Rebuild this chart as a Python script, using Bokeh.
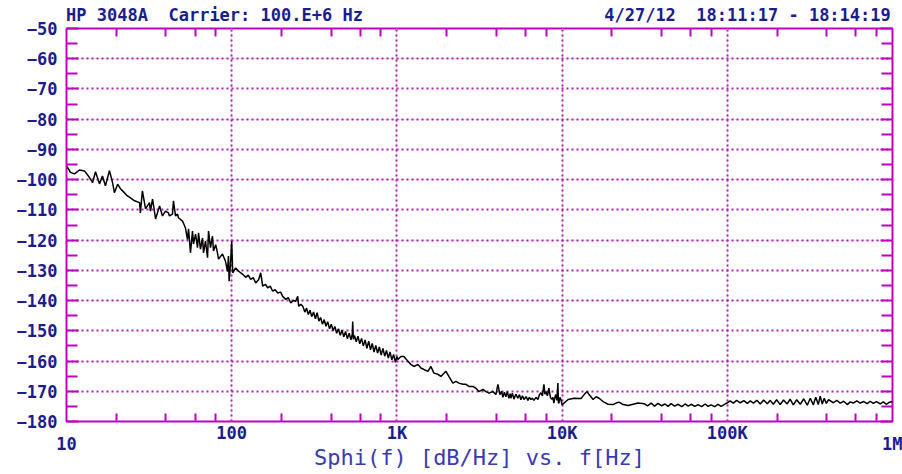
from bokeh.plotting import figure
from bokeh.models import Range1d, FixedTicker, LinearAxis, LogAxis, Grid
from bokeh.embed import file_html
from bokeh.resources import INLINE

# ---------------- data ----------------
title_left = "HP 3048A\u00a0 Carrier: 100.E+6 Hz"
title_right = "4/27/12\u00a0 18:11:17 - 18:14:19"
x_title = "Sphi(f) [dB/Hz] vs. f[Hz]"

x_tick_values = [10, 100, 1000, 10000, 100000, 1000000]
x_tick_labels = ["10", "100", "1K", "10K", "100K", "1M"]
x_minor = [m * d for d in (10, 100, 1000, 10000, 100000) for m in (2, 4, 6, 8)]
y_tick_values = list(range(-180, -49, 10))
y_minor = list(range(-175, -50, 10))

f_10_100 = [10.1, 10.57, 11.18, 11.98, 12.85, 13.78, 14.37, 14.98, 15.84, 16.5, 17.2, 18.2, 19.0, 19.5,
            20.4, 21.2, 22.4, 23.4, 24.4, 25.8, 27.7, 28.0, 28.8, 30.1, 31.8, 32.2, 33.2, 34.6, 36.6,
            38.1, 39.7, 41.4, 42.0, 43.8, 44.4, 45.7, 47.0, 47.6, 50.4, 52.5, 54.0, 54.8, 56.3, 57.9,
            58.7, 60.4, 62.1, 63.0, 64.7, 66.6, 67.5, 69.4, 71.4, 72.4, 74.4, 76.5, 77.6, 80.0, 82.0,
            83.2, 87.9, 91.7, 94.3, 95.6, 96.5, 98.3, 100.0]
db_10_100 = [-95.7, -97.6, -98.1, -96.8, -97.1, -99.3, -101.0, -97.4, -101.4, -98.8, -102.0, -97.0, -101.0, -104.3,
             -101.5, -103.0, -104.3, -105.4, -106.0, -107.0, -107.6, -111.0, -103.7, -109.7, -107.6, -110.4, -106.4, -113.0, -108.7,
             -112.0, -110.4, -111.0, -112.0, -111.4, -107.0, -112.0, -111.4, -112.6, -113.7, -116.0, -119.8, -116.3, -124.2, -117.0,
             -121.3, -118.0, -122.5, -117.6, -123.0, -119.3, -124.2, -120.3, -125.8, -117.0, -122.5, -118.7, -123.6, -121.5, -124.2,
             -126.3, -124.6, -127.0, -130.3, -125.3, -133.6, -128.0, -120.3]

f_100_1k = [101.4, 105.7, 110.2, 116.6, 121.5, 126, 130.3, 135, 139.8, 145.7, 149.8, 154.1, 160, 165.2, 171,
            177.1, 183, 189.9, 198, 203.5, 212.3, 220, 227.6, 236, 244, 250.9, 254.4, 262, 270, 277, 284,
            291, 298, 305, 313, 321, 329, 337, 345, 354, 363, 372, 381, 391, 401, 411, 421, 432, 443, 454,
            465, 477, 489, 501, 514, 527, 537, 540, 545, 553, 567, 581, 596, 611, 626, 642, 658, 675, 692,
            709, 727, 745, 764, 783, 803, 823, 844, 865, 887, 909, 932, 955, 979, 1000]
db_100_1k = [-130.8, -129.2, -130.3, -131.3, -132.3, -131.6, -133.0, -132.4, -134.2, -133.0, -130.8, -135.2, -134.6, -135.8, -135.2,
             -136.9, -136.4, -137.5, -137.2, -138.6, -139.6, -139.0, -140.8, -140.0, -140.2, -138.6, -141.9, -141.2, -142.0, -143.8, -142.5,
             -144.6, -143.2, -145.3, -143.8, -146.0, -144.0, -146.8, -145.6, -147.8, -146.3, -148.5, -147.0, -149.3, -147.8, -150.0, -148.6, -150.8, -149.3, -151.5,
             -149.8, -152.0, -150.2, -152.6, -150.8, -153.0, -151.0, -146.9, -152.8, -151.5, -153.6, -151.8, -154.3, -152.5, -155.0, -153.0, -155.8, -153.4, -156.3,
             -154.2, -157.0, -154.8, -157.4, -155.3, -158.0, -155.8, -158.4, -156.5, -159.0, -157.0, -159.6, -157.8, -160.4, -158.5]

f_1k_10k = [1014, 1057, 1102, 1166, 1215, 1268, 1340, 1398, 1457, 1541, 1606, 1675, 1771, 1846, 1980, 2064,
            2183, 2276, 2373, 2509, 2616, 2729, 2884, 3007, 3136, 3316, 3458, 3606, 3812, 3973, 4088, 4203,
            4300, 4381, 4470, 4568, 4660, 4764, 4850, 4898, 5000, 5108, 5250, 5402, 5520, 5632, 5750, 5875,
            6050, 6209, 6330, 6471, 6600, 6750, 6950, 7137, 7300, 7441, 7600, 7762, 7870, 7980, 8150, 8318,
            8500, 8670, 8800, 8913, 9050, 9165, 9300, 9432, 9500, 9563, 9700, 9833]
db_1k_10k = [-159.5, -158.5, -158.5, -160.1, -161.1, -161.8, -161.1, -162.3, -162.8, -163.4, -161.8, -164.0, -164.4, -165.1, -163.4, -165.1,
             -167.3, -166.7, -167.3, -167.7, -167.7, -168.4, -168.4, -169.0, -170.1, -169.4, -170.1, -170.6, -170.1, -171.1, -167.7, -171.1,
             -170.0, -172.0, -170.3, -171.8, -170.1, -172.3, -170.8, -172.3, -170.6, -172.6, -171.0, -172.3, -171.1, -172.8, -171.5, -172.7,
             -171.8, -173.0, -172.0, -172.7, -172.3, -173.0, -172.0, -172.7, -171.1, -170.5, -171.5, -167.7, -171.0, -170.1, -171.5, -169.0,
             -172.0, -172.7, -172.0, -173.9, -172.0, -171.1, -173.0, -167.3, -173.9, -173.9, -172.0, -172.7]

f_10k_1m = [10000, 10870, 11820, 13030, 13600, 14170, 14570, 15410, 16060, 16750, 17700, 18990, 20350, 21230,
            22130, 23400, 25090, 26900, 28840, 31360, 32900, 34580, 36300, 38100, 40000, 42000, 43800, 45700,
            48000, 50400, 53000, 55600, 58000, 60400, 63500, 66600, 70000, 73400, 76500, 79800, 84000, 87900,
            91700, 95600, 100000, 104000, 108700, 114000, 119800, 126000, 132100, 138000, 143700, 151000,
            158400, 166000, 174600, 182000, 189900, 199000, 209000, 219000, 230500, 240000, 250900, 263000,
            276500, 290000, 304900, 318000, 331600, 343000, 355500, 365000, 375800, 386000, 397300, 410000,
            438000, 460000, 483000, 507000, 532000, 555000, 579000, 608000, 638000, 670000, 703000, 733000,
            765000, 800000, 843000, 880000, 917000, 960000, 1000000]
db_10k_1m = [-174.5, -172.7, -172.3, -172.4, -171.1, -170.1, -171.1, -172.7, -171.8, -172.3, -173.4, -174.3, -174.4, -173.9,
             -173.6, -174.4, -174.7, -174.3, -173.9, -174.1, -174.8, -173.9, -174.9, -174.0, -174.8, -174.2, -175.0, -174.1,
             -174.9, -174.3, -175.1, -174.2, -174.9, -174.3, -175.0, -174.4, -175.1, -174.2, -175.0, -174.5, -175.1, -174.3,
             -175.0, -174.4, -173.8, -173.2, -173.9, -173.0, -173.8, -173.1, -174.0, -173.2, -173.9, -173.0,
             -174.2, -172.9, -174.1, -173.0, -174.3, -172.8, -174.4, -172.9, -174.2, -172.6, -174.5, -172.8,
             -174.3, -172.5, -174.6, -172.3, -174.5, -172.0, -174.4, -171.6, -174.2, -172.3, -174.0, -172.8,
             -173.8, -173.0, -173.9, -173.3, -174.4, -173.5, -173.9, -173.2, -173.9, -173.4, -174.1, -173.3,
             -174.0, -173.4, -174.2, -173.5, -174.3, -173.6, -173.4]

freq = f_10_100 + f_100_1k + f_1k_10k + f_10k_1m
sphi = db_10_100 + db_100_1k + db_1k_10k + db_10k_1m

# ---------------- style ----------------
MAG = "#c000c0"
GRID = "#b020b0"
NAVY = "#1c1c8c"
TITLE_BLUE = "#3a3ab0"
FONT = "DejaVu Sans Mono"
FS = "17px"

W, H = 902, 474
BL, BT, BR, BB = 66, 28, 10, 53
XMIN, XMAX, YMIN, YMAX = 10, 1e6, -180, -50
FW = W - BL - BR


def px2x(px):  # page pixel -> data x (log), used only to place the header texts
    return 10 ** (1 + 5 * (px - BL) / FW)


p = figure(width=W, height=H, x_axis_type="log",
           x_range=Range1d(XMIN, XMAX), y_range=Range1d(YMIN, YMAX),
           output_backend="svg", toolbar_location=None,
           x_axis_location=None, y_axis_location=None,
           min_border_left=BL, min_border_right=BR, min_border_top=BT, min_border_bottom=BB)
p.background_fill_color = "white"
p.border_fill_color = "white"
p.outline_line_color = MAG
p.outline_line_width = 2

# grids
p.add_layout(Grid(dimension=0, ticker=FixedTicker(ticks=x_tick_values[1:-1]),
                  grid_line_color=GRID, grid_line_dash="2 3", grid_line_width=2))
p.add_layout(Grid(dimension=1, ticker=FixedTicker(ticks=y_tick_values[1:-1]),
                  grid_line_color=GRID, grid_line_dash="2 3", grid_line_width=2))


def style_axis(ax, major_in, minor_in, show_labels):
    ax.axis_line_color = None
    ax.major_tick_line_color = MAG
    ax.minor_tick_line_color = MAG
    ax.major_tick_line_width = 2
    ax.minor_tick_line_width = 2
    ax.major_tick_out = 0
    ax.minor_tick_out = 0
    ax.major_tick_in = major_in
    ax.minor_tick_in = minor_in
    if show_labels:
        ax.major_label_text_font = FONT
        ax.major_label_text_font_style = "bold"
        ax.major_label_text_font_size = FS
        ax.major_label_text_color = NAVY
    else:
        ax.major_label_text_font_size = "2px"
        ax.major_label_text_color = None
        ax.major_label_standoff = 0


left = LinearAxis(ticker=FixedTicker(ticks=y_tick_values, minor_ticks=y_minor))
style_axis(left, 12, 11, True)
left.major_label_standoff = 9
p.add_layout(left, "left")

right = LinearAxis(ticker=FixedTicker(ticks=y_tick_values, minor_ticks=y_minor))
style_axis(right, 12, 11, False)
p.add_layout(right, "right")

# bottom axis: end labels (10, 1M) sit one short line lower, as in the original plot
bottom = LogAxis(ticker=FixedTicker(ticks=x_tick_values, minor_ticks=x_minor))
style_axis(bottom, 0, 8, True)
bottom.major_label_standoff = 1
bottom.major_label_text_line_height = 0.59
overrides = {}
for i, (v, t) in enumerate(zip(x_tick_values, x_tick_labels)):
    overrides[int(v)] = ("\n" + t) if i in (0, len(x_tick_values) - 1) else t
bottom.major_label_overrides = overrides
bottom.axis_label = x_title
bottom.axis_label_text_font = FONT
bottom.axis_label_text_font_size = "22px"
bottom.axis_label_text_font_style = "normal"
bottom.axis_label_text_color = TITLE_BLUE
bottom.axis_label_standoff = -12
p.add_layout(bottom, "below")

# top axis: minor ticks + header texts as its labels
hdr_pos = [px2x(214), px2x(747)]
top = LogAxis(ticker=FixedTicker(ticks=hdr_pos, minor_ticks=x_minor))
style_axis(top, 0, 8, True)
top.major_label_standoff = 4
top.major_label_overrides = {hdr_pos[0]: title_left, hdr_pos[1]: title_right}
p.add_layout(top, "above")

# trace
p.line(freq, sphi, line_color="black", line_width=1.5)

open("out.html", "w").write(file_html(p, INLINE))
